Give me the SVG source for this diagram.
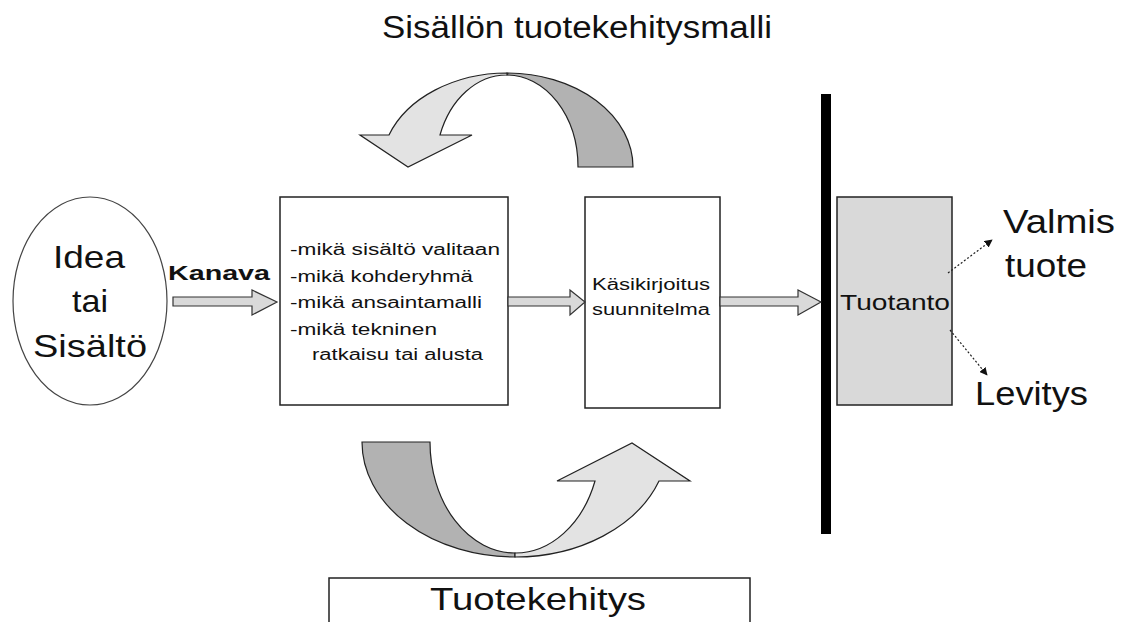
<svg xmlns="http://www.w3.org/2000/svg" width="1128" height="622" viewBox="0 0 1128 622">
<defs>
<style>
text{font-family:"Liberation Sans",Arial,sans-serif;fill:#111}
.box{fill:#fff;stroke:#222;stroke-width:1.5}
.blk{fill:#d9d9d9;stroke:#333;stroke-width:1.2}
.dark{fill:#b2b2b2;stroke:#222;stroke-width:1.2}
.light{fill:#e3e3e3;stroke:#222;stroke-width:1.2}
.dot{stroke:#222;stroke-width:1.2;stroke-dasharray:2 2;fill:none}
</style>
<marker id="ah" viewBox="0 0 10 10" refX="9" refY="5" markerWidth="8" markerHeight="8" orient="auto" markerUnits="userSpaceOnUse">
<path d="M0,0 L10,5 L0,10 Z" fill="#111"/>
</marker>
</defs>
<rect width="1128" height="622" fill="#fff"/>

<text x="382" y="38" font-size="31" textLength="390" lengthAdjust="spacingAndGlyphs">Sisällön tuotekehitysmalli</text>

<g id="cycle-top">
<path class="dark" d="M578,167 A71 92 0 0 0 507,75 L507,73 A126 94 0 0 1 633,167 Z"/>
<path class="light" d="M507,75 A71 92 0 0 0 440,135 L472,135 L408,167 L360,135 L389,135 A126 94 0 0 1 507,73 Z"/>
</g>

<g id="cycle-bottom">
<path class="dark" d="M362,442 L430,442 A85 111 0 0 0 515,553 L515,557 A153 115 0 0 1 362,442 Z"/>
<path class="light" d="M515,553 A85 111 0 0 0 595,481 L557,481 L632,443 L690,481 L659,481 A153 115 0 0 1 515,557 Z"/>
</g>

<g id="idea">
<ellipse cx="90" cy="301" rx="77" ry="104" fill="#fff" stroke="#444" stroke-width="1.2"/>
<text x="53" y="268" font-size="32" textLength="72" lengthAdjust="spacingAndGlyphs">Idea</text>
<text x="72" y="312" font-size="32" textLength="36" lengthAdjust="spacingAndGlyphs">tai</text>
<text x="33" y="357" font-size="32" textLength="114" lengthAdjust="spacingAndGlyphs">Sisältö</text>
</g>

<g id="kanava-label">
<text x="168" y="280" font-size="20" font-weight="bold" textLength="102" lengthAdjust="spacingAndGlyphs">Kanava</text>
</g>

<g id="valinnat">
<rect class="box" x="280" y="197" width="228" height="208"/>
<g font-size="16">
<text x="290" y="255" textLength="210" lengthAdjust="spacingAndGlyphs">-mikä sisältö valitaan</text>
<text x="290" y="282" textLength="183" lengthAdjust="spacingAndGlyphs">-mikä kohderyhmä</text>
<text x="290" y="308" textLength="192" lengthAdjust="spacingAndGlyphs">-mikä ansaintamalli</text>
<text x="290" y="335" textLength="147" lengthAdjust="spacingAndGlyphs">-mikä tekninen</text>
<text x="312" y="360" textLength="171" lengthAdjust="spacingAndGlyphs">ratkaisu tai alusta</text>
</g>
</g>

<g id="kasikirjoitus">
<rect class="box" x="585" y="197" width="135" height="211"/>
<text x="592" y="290" font-size="16" textLength="118" lengthAdjust="spacingAndGlyphs">Käsikirjoitus</text>
<text x="592" y="315" font-size="16" textLength="118" lengthAdjust="spacingAndGlyphs">suunnitelma</text>
</g>

<g id="raja">
<rect x="821" y="94" width="10" height="440" fill="#000"/>
</g>

<g id="tuotanto">
<rect x="837" y="197" width="115" height="208" fill="#d9d9d9" stroke="#222" stroke-width="1.5"/>
<text x="840" y="310" font-size="22" textLength="110" lengthAdjust="spacingAndGlyphs">Tuotanto</text>
</g>

<g id="valmis">
<text x="1003" y="233" font-size="33" textLength="112" lengthAdjust="spacingAndGlyphs">Valmis</text>
<text x="1005" y="277" font-size="33" textLength="82" lengthAdjust="spacingAndGlyphs">tuote</text>
</g>

<g id="levitys">
<text x="975" y="405" font-size="33" textLength="113" lengthAdjust="spacingAndGlyphs">Levitys</text>
</g>

<g id="tuotekehitys">
<rect class="box" x="329" y="578" width="421" height="60"/>
<text x="430" y="610" font-size="32" textLength="216" lengthAdjust="spacingAndGlyphs">Tuotekehitys</text>
</g>

<g id="connectors">
<polygon class="blk" points="173,297 252,297 252,290 277,302 252,315 252,306 173,306"/>
<polygon class="blk" points="508,297 570,297 570,290 585,302 570,315 570,306 508,306"/>
<polygon class="blk" points="720,297 798,297 798,290 821,302 798,315 798,306 720,306"/>
<line class="dot" x1="948" y1="273" x2="992" y2="240" marker-end="url(#ah)"/>
<line class="dot" x1="950" y1="330" x2="987" y2="375" marker-end="url(#ah)"/>
</g>
</svg>
